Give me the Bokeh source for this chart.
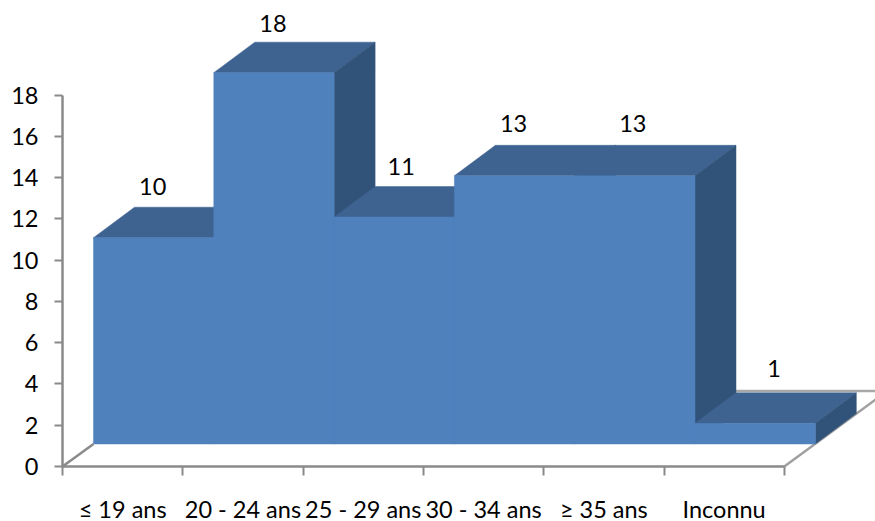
from bokeh.core.properties import value
from bokeh.embed import file_html
from bokeh.models import ColumnDataSource, FixedTicker, Range1d
from bokeh.plotting import figure
from bokeh.resources import INLINE

# Cases per age group
categories = ["≤ 19 ans", "20 - 24 ans", "25 - 29 ans", "30 - 34 ans", "≥ 35 ans", "Inconnu"]
counts = [10, 18, 11, 13, 13, 1]
y_ticks = list(range(0, 19, 2))

FONT = "Lato"
FONT_SIZE = "23.5px"
AXIS_COLOR = "#8a8a8a"
FRONT, TOP, SIDE = "#4f81bd", "#3e6390", "#325379"

# Oblique projection, in data units: one category is 120.3 px, one count 20.63 px
GAP_X, GAP_Y = 31 / 120.3, 22.5 / 20.63      # floor margin in front of the bars
DEPTH_X, DEPTH_Y = 41 / 120.3, 30.5 / 20.63  # depth of one bar

# The frame fills the canvas; both axes are pinned at zero inside it
p = figure(
    width=875, height=521, output_backend="svg", toolbar_location=None,
    min_border_left=0, min_border_bottom=0, min_border_top=0, min_border_right=0,
    x_range=Range1d(-62 / 120.3, 813 / 120.3), y_range=Range1d(-55 / 20.63, 466 / 20.63),
    background_fill_color="white", border_fill_color="white", outline_line_color=None,
)
p.grid.visible = False

# Floor edges: left and right diagonals, then the rear edge
floor_end_x = 2 * GAP_X + DEPTH_X
floor_end_y = 2 * GAP_Y + DEPTH_Y
p.multi_line(
    xs=[[0, GAP_X], [6, 6 + floor_end_x], [floor_end_x, 6 + floor_end_x]],
    ys=[[0, GAP_Y], [0, floor_end_y], [floor_end_y, floor_end_y]],
    line_color=[AXIS_COLOR, "#a0a0a0", "#a8a8a8"], line_width=2.5,
)

# Faces are painted bar by bar from the left so each front hides its neighbour's depth
xs, ys, colors = [], [], []
for i, count in enumerate(counts):
    x0, x1 = i + GAP_X, i + 1 + GAP_X
    y0, y1 = GAP_Y, GAP_Y + count
    xs += [[x0, x1, x1 + DEPTH_X, x0 + DEPTH_X],
           [x1, x1 + DEPTH_X, x1 + DEPTH_X, x1],
           [x0, x1, x1, x0]]
    ys += [[y1, y1, y1 + DEPTH_Y, y1 + DEPTH_Y],
           [y0, y0 + DEPTH_Y, y1 + DEPTH_Y, y1],
           [y0, y0, y1, y1]]
    colors += [TOP, SIDE, FRONT]
faces = ColumnDataSource(dict(xs=xs, ys=ys, color=colors))
p.patches("xs", "ys", source=faces, fill_color="color", line_color="color", line_width=0.5)

# Value labels sit above the rear top edge of each bar
labels = ColumnDataSource(dict(
    x=[i + GAP_X + 0.5 for i in range(len(counts))],
    y=[c + GAP_Y + DEPTH_Y for c in counts],
    text=[str(c) for c in counts],
    dx=[-1, -1, 7, -1, -2, 19],
    dy=[-21, -19, -20, -22, -22, -24],
))
p.text("x", "y", text="text", source=labels, x_offset="dx", y_offset="dy",
       text_font=value(FONT), text_font_size=value(FONT_SIZE), text_color="black",
       text_align="center", text_baseline="middle")

# Vertical axis
yax = p.yaxis[0]
yax.fixed_location = 0
yax.ticker = FixedTicker(ticks=y_ticks)
yax.bounds = (0, 18)
yax.major_tick_in = 0
yax.major_tick_out = 8
yax.minor_tick_in = 0
yax.minor_tick_out = 0
yax.major_label_standoff = 16

# Horizontal axis: labels at category centres, ticks on the boundaries
xax = p.xaxis[0]
xax.fixed_location = 0
xax.ticker = FixedTicker(ticks=[i + 0.5 for i in range(len(categories))],
                         minor_ticks=list(range(len(categories) + 1)))
xax.major_label_overrides = {i + 0.5: c for i, c in enumerate(categories)}
xax.bounds = (0, 6)
xax.major_tick_in = 0
xax.major_tick_out = 0
xax.minor_tick_in = 0
xax.minor_tick_out = 9
xax.major_label_standoff = 19

for ax in (xax, yax):
    ax.axis_line_color = AXIS_COLOR
    ax.axis_line_width = 2.5
    ax.major_tick_line_color = AXIS_COLOR
    ax.major_tick_line_width = 2
    ax.minor_tick_line_color = AXIS_COLOR
    ax.minor_tick_line_width = 2
    ax.major_label_text_font = FONT
    ax.major_label_text_font_size = FONT_SIZE
    ax.major_label_text_color = "black"

open("out.html", "w").write(file_html(p, INLINE))
